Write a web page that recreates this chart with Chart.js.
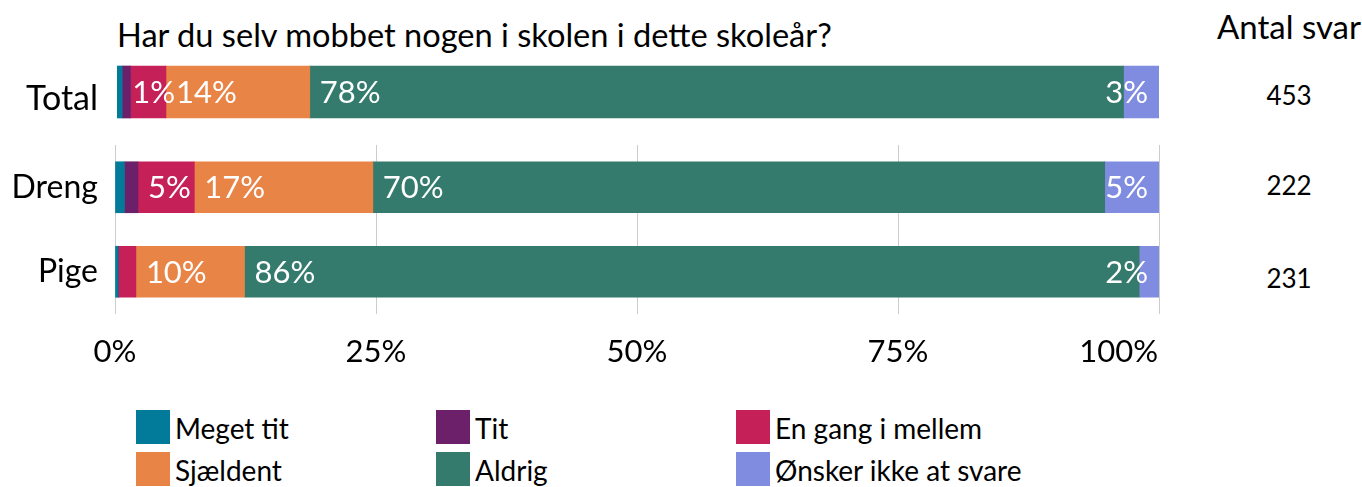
<!DOCTYPE html>
<html lang="da">
<head>
<meta charset="utf-8">
<title>Har du selv mobbet nogen i skolen i dette skoleår?</title>
<script src="https://cdn.jsdelivr.net/npm/chart.js@4.4.1/dist/chart.umd.min.js"></script>
<style>
  html, body { margin: 0; padding: 0; background: #fff; }
  body { width: 1362px; height: 487px; position: relative; overflow: hidden; font-family: Lato, sans-serif; color: #000; }
  .abs { position: absolute; white-space: nowrap; }
  #title { left: 117px; top: 15px; font-size: 32.6px; line-height: 40px; }
  #antal { left: 1209px; width: 160px; top: 6px; font-size: 33px; line-height: 40px; text-align: center; }
  .count { left: 1249px; width: 80px; font-size: 26px; line-height: 30px; text-align: center; }
  #totalChart { left: 0; top: 62px; }
  #genderChart { left: 0; top: 145px; }
  .legend-item { height: 34px; }
  .legend-item .swatch { position: absolute; left: 0; top: 0; width: 34px; height: 34px; }
  .legend-item .txt { position: absolute; left: 39px; top: 0; font-size: 28px; line-height: 36px; }
</style>
</head>
<body>
<div id="title" class="abs">Har du selv mobbet nogen i skolen i dette skoleår?</div>
<div id="antal" class="abs">Antal svar</div>
<canvas id="totalChart" class="abs" width="1160" height="60"></canvas>
<canvas id="genderChart" class="abs" width="1220" height="229"></canvas>
<div id="counts"></div>
<div id="legend"></div>
<script>
const groups = ['Total', 'Dreng', 'Pige'];
const answers = ['Meget tit', 'Tit', 'En gang i mellem', 'Sjældent', 'Aldrig', 'Ønsker ikke at svare'];
const colors = ['#027b9a', '#6b2069', '#c52158', '#e98447', '#347a6d', '#808ce0'];

// share of answers in percent, in the order Total, Dreng, Pige
const megetTit  = [0.5, 0.9, 0.3];
const tit       = [0.8, 1.3, 0];
const enGang    = [3.4, 5.4, 1.7];
const sjaeldent = [13.8, 17.1, 10.4];
const aldrig    = [78.1, 70.1, 85.7];
const oensker   = [3.4, 5.2, 1.9];
const answerCounts = [453, 222, 231];
const xTicks = [0, 25, 50, 75, 100];

// which segments get a printed value
const labelShown = [
  [false, false, false],
  [true, false, false],
  [false, true, false],
  [true, true, true],
  [true, true, true],
  [true, true, true]
];

const series = [megetTit, tit, enGang, sjaeldent, aldrig, oensker];

Chart.defaults.font.family = 'Lato';
Chart.defaults.color = '#000';

function makeDatasets(from, to) {
  return series.map((values, i) => ({
    label: answers[i],
    data: values.slice(from, to),
    showLabel: labelShown[i].slice(from, to),
    backgroundColor: colors[i],
    borderWidth: 0
  }));
}

// no extra room around the axes, the canvases are placed by hand
function noPadding(scale) {
  scale.paddingTop = 0;
  scale.paddingBottom = 0;
  scale.paddingLeft = 0;
  scale.paddingRight = 0;
}

// white percentages inside the segments; the last segment is right-aligned
const valueLabels = {
  id: 'valueLabels',
  afterDatasetsDraw(chart) {
    const ctx = chart.ctx;
    const n = chart.data.datasets.length;
    ctx.save();
    ctx.font = '31px Lato';
    ctx.fillStyle = '#fff';
    ctx.textBaseline = 'middle';
    chart.data.datasets.forEach((ds, di) => {
      chart.getDatasetMeta(di).data.forEach((bar, i) => {
        if (!ds.showLabel[i]) return;
        const text = Math.round(ds.data[i]) + '%';
        if (di === n - 1) {
          ctx.textAlign = 'right';
          ctx.fillText(text, bar.x - 11, bar.y + 1);
        } else {
          ctx.textAlign = 'left';
          ctx.fillText(text, bar.base + 10, bar.y + 1);
        }
      });
    });
    ctx.restore();
  }
};

// percent ticks under the axis; the last one stays inside the plot
const percentTicks = {
  id: 'percentTicks',
  afterDraw(chart) {
    const ctx = chart.ctx;
    const x = chart.scales.x;
    ctx.save();
    ctx.font = '31px Lato';
    ctx.fillStyle = '#000';
    ctx.textBaseline = 'alphabetic';
    xTicks.forEach((v, i) => {
      const px = x.getPixelForValue(v);
      ctx.textAlign = i === xTicks.length - 1 ? 'right' : 'center';
      ctx.fillText(v + '%', i === xTicks.length - 1 ? px - 1 : px, chart.chartArea.bottom + 48);
    });
    ctx.restore();
  }
};

function draw() {
  new Chart(document.getElementById('totalChart'), {
    type: 'bar',
    data: { labels: groups.slice(0, 1), datasets: makeDatasets(0, 1) },
    options: {
      indexAxis: 'y',
      responsive: false,
      animation: false,
      barThickness: 52,
      layout: { padding: { right: 1 } },
      plugins: { legend: { display: false }, tooltip: { enabled: false } },
      scales: {
        x: { stacked: true, display: false, min: 0, max: 100 },
        y: {
          stacked: true,
          grid: { display: false, drawTicks: false },
          border: { display: false },
          ticks: { font: { size: 34 }, color: '#000', padding: 19, labelOffset: 7 },
          afterFit(scale) { scale.width = 117; noPadding(scale); }
        }
      }
    },
    plugins: [valueLabels]
  });

  new Chart(document.getElementById('genderChart'), {
    type: 'bar',
    data: { labels: groups.slice(1), datasets: makeDatasets(1, 3) },
    options: {
      indexAxis: 'y',
      responsive: false,
      animation: false,
      barThickness: 51,
      layout: { padding: { right: 61 } },
      plugins: { legend: { display: false }, tooltip: { enabled: false } },
      scales: {
        x: {
          stacked: true,
          min: 0,
          max: 100,
          grid: { color: '#cccccc', lineWidth: 1, drawTicks: false },
          border: { display: false },
          afterBuildTicks(scale) { scale.ticks = xTicks.map(v => ({ value: v })); },
          ticks: { display: false },
          afterFit(scale) { scale.height = 60; noPadding(scale); }
        },
        y: {
          stacked: true,
          grid: { display: false, drawTicks: false },
          border: { display: false },
          ticks: { font: { size: 32 }, color: '#000', padding: 17 },
          afterFit(scale) { scale.width = 115; noPadding(scale); }
        }
      }
    },
    plugins: [valueLabels, percentTicks]
  });
}

// response counts column
const countTops = [80, 170, 263];
const countsBox = document.getElementById('counts');
answerCounts.forEach((c, i) => {
  const d = document.createElement('div');
  d.className = 'abs count';
  d.style.top = countTops[i] + 'px';
  d.textContent = c;
  countsBox.appendChild(d);
});

// legend: three columns, two rows
const legendBox = document.getElementById('legend');
answers.forEach((name, i) => {
  const item = document.createElement('div');
  item.className = 'abs legend-item';
  item.style.left = (136 + (i % 3) * 300) + 'px';
  item.style.top = (410 + Math.floor(i / 3) * 42) + 'px';
  item.innerHTML = '<div class="swatch" style="background:' + colors[i] + '"></div><div class="txt"></div>';
  item.querySelector('.txt').textContent = name;
  legendBox.appendChild(item);
});

if (document.fonts && document.fonts.load) {
  Promise.all([document.fonts.load('31px Lato'), document.fonts.ready]).then(draw, draw);
} else {
  draw();
}
</script>
</body>
</html>
